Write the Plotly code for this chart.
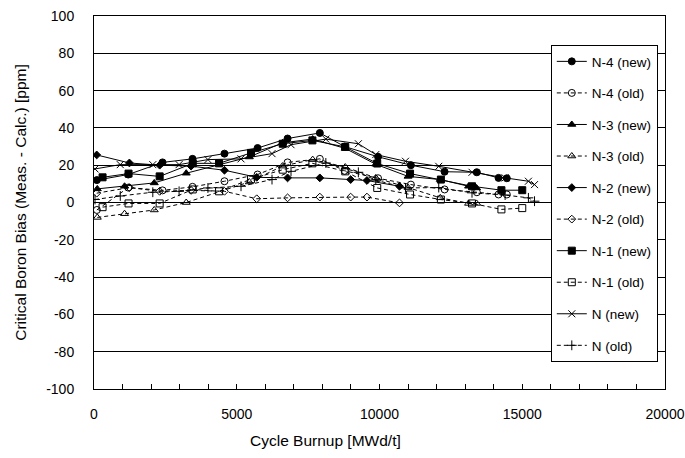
import plotly.graph_objects as go

# ---- data ----
x_n4 = [100, 1200, 2400, 3450, 4570, 5730, 6780, 7910, 8780, 9950, 11100, 12280, 13410, 14170, 14460]
n4_new = [12, 15, 21.5, 23.4, 26.2, 29.2, 34.3, 37.3, 30, 24.5, 20, 16.5, 16.2, 13.2, 13]
n4_old = [-4, 8, 6.5, 8.4, 11.4, 15, 21.5, 23.4, 17, 13, 9.6, 7, 5.5, 4.3, 4.3]

x_n3 = [115, 1070, 2110, 3230, 5440, 6600, 7660, 8800, 9870, 11000, 12130, 13120, 13400]
n3_new = [7.3, 8.7, 10.5, 15.7, 24.4, 32, 34, 29, 20.5, 14, 12.3, 8.7, 7.8]
n3_old = [-8, -6, -4, 0, 11, 19.5, 23, 19, 13.2, 8, 2.5, -0.5, -0.5]

x_n2 = [95, 1240, 2300, 3400, 4570, 5700, 6780, 7910, 8990, 9560, 10700]
n2_new = [25.5, 21.2, 20, 19.5, 17.3, 13.5, 13.2, 13.2, 12.3, 11.8, 8.7]
n2_old = [5, 8, 6, 6.5, 6, 2, 2.5, 2.9, 2.9, 2.9, -0.2]

x_n1 = [300, 1210, 2300, 3460, 4380, 5500, 6610, 7650, 8800, 9920, 11070, 12150, 13240, 14270, 15000]
n1_new = [13.5, 15.5, 14, 21, 21, 26.6, 31.5, 33.3, 29.8, 20.9, 15.5, 12.3, 8.7, 6.6, 6.6]
n1_old = [-2.5, -0.5, -0.5, 7, 6, 12.5, 17.6, 21, 16.7, 7.8, 4.3, 1.6, -0.5, -3.7, -3]

x_n = [35, 920, 2060, 2980, 3990, 5150, 6235, 6900, 8120, 9260, 9870, 10910, 12075, 13240, 14400, 15216, 15430]
n_new = [18, 20.3, 20.3, 20.3, 23, 23.4, 26.2, 31, 34, 31.5, 25.7, 22.1, 19.4, 16.2, 13.2, 11.4, 9.6]
n_old = [1.6, 3.5, 5.5, 6, 7.8, 8.7, 12.3, 16.7, 21.2, 16.2, 12, 7.8, 8, 5.2, 4, 2.5, 0.7]

x_ticks = [0, 5000, 10000, 15000, 20000]
x_ticktext = ["0", "5000", "10000", "15000", "20000"]
y_ticks = [-100, -80, -60, -40, -20, 0, 20, 40, 60, 80, 100]
y_ticktext = ["-100", "-80", "-60", "-40", "-20", "0", "20", "40", "60", "80", "100"]

series = [
    ("N-4 (new)", x_n4, n4_new, "circle", "solid", 7),
    ("N-4 (old)", x_n4, n4_old, "circle-open", "4px,3px", 7),
    ("N-3 (new)", x_n3, n3_new, "triangle-up", "solid", 7),
    ("N-3 (old)", x_n3, n3_old, "triangle-up-open", "4px,3px", 7),
    ("N-2 (new)", x_n2, n2_new, "diamond", "solid", 6),
    ("N-2 (old)", x_n2, n2_old, "diamond-open", "4px,3px", 6),
    ("N-1 (new)", x_n1, n1_new, "square", "solid", 7),
    ("N-1 (old)", x_n1, n1_old, "square-open", "4px,3px", 7),
    ("N (new)", x_n, n_new, "x-thin-open", "solid", 7),
    ("N (old)", x_n, n_old, "cross-thin-open", "4px,3px", 7),
]

fig = go.Figure()
for i, (name, xs, ys, sym, dash, size) in enumerate(series):
    fig.add_trace(go.Scatter(
        x=xs, y=ys, name=name, mode="lines+markers",
        legendgroup=f"g{i}",
        line=dict(color="black", width=1, dash=dash),
        marker=dict(symbol=sym, size=size, color="black",
                    line=dict(color="black", width=1)),
    ))

font = "Arial, Liberation Sans, sans-serif"
fig.update_layout(
    width=685, height=458,
    margin=dict(l=94, r=20, t=16, b=69, autoexpand=False),
    paper_bgcolor="white", plot_bgcolor="white",
    font=dict(family=font, size=14, color="black"),
    showlegend=True,
    legend=dict(
        x=0.8, y=0.922, xanchor="left", yanchor="top",
        bgcolor="white", bordercolor="black", borderwidth=1,
        font=dict(size=13.5), tracegroupgap=11, itemwidth=30,
    ),
    xaxis=dict(
        range=[0, 20000], tickmode="array", tickvals=x_ticks, ticktext=x_ticktext,
        showgrid=False, zeroline=False, automargin=False,
        showline=True, linecolor="black", linewidth=1, mirror=True,
        ticks="inside", ticklen=5, tickcolor="black",
        minor=dict(dtick=1000, tick0=0, ticks="inside", ticklen=5, tickcolor="black", showgrid=False),
        ticklabelstandoff=12,
    ),
    yaxis=dict(
        range=[-100, 100], tickmode="array", tickvals=y_ticks, ticktext=y_ticktext,
        showgrid=True, gridcolor="black", gridwidth=1,
        zeroline=False, automargin=False,
        showline=True, linecolor="black", linewidth=1, mirror=True,
        ticks="", ticklabelstandoff=16,
        title=dict(text="Critical Boron Bias (Meas. - Calc.) [ppm]", standoff=15, font=dict(size=15.5)),
    ),
    annotations=[dict(
        text="Cycle Burnup [MWd/t]", xref="paper", yref="paper",
        x=0.406, y=-0.139, xanchor="center", yanchor="middle",
        showarrow=False, font=dict(size=15.5),
    )],
)

fig.write_html("out.html")
